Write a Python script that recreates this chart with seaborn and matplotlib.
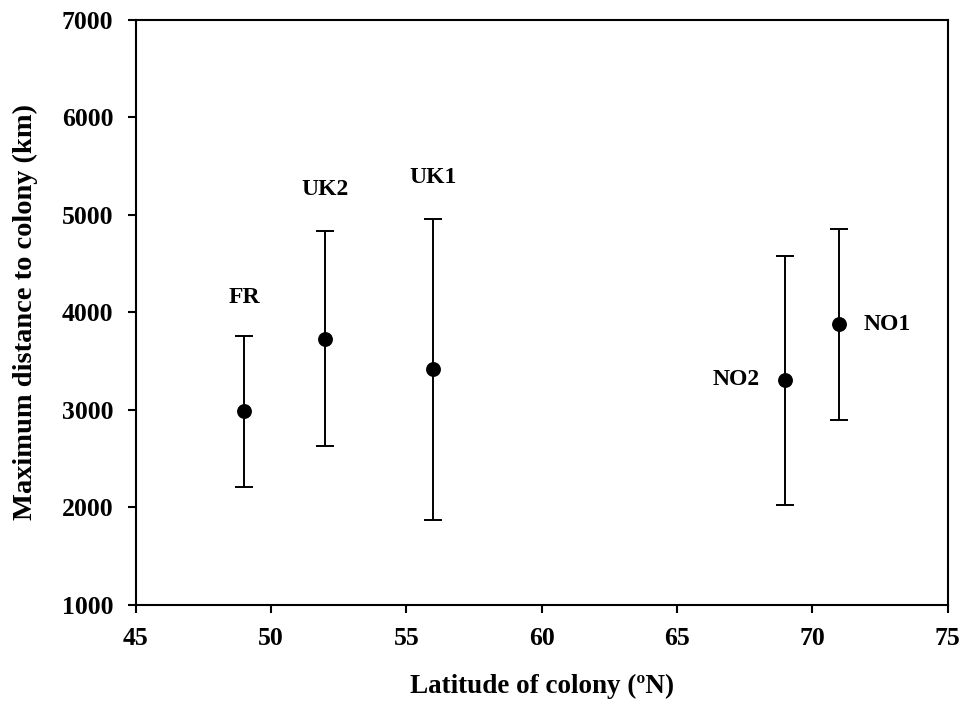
import numpy as np
import pandas as pd
import seaborn as sns
import matplotlib.pyplot as plt

# colony data
colonies = ['FR', 'UK2', 'UK1', 'NO2', 'NO1']
latitude = [49, 52, 56, 69, 71]
max_dist = [2983, 3728, 3421, 3301, 3879]
upper = [3762, 4839, 4956, 4579, 4856]
lower = [2207, 2624, 1872, 2019, 2897]

# label anchor positions (data coords)
label_x = [49, 52, 56, 67.2, 72.75]
label_y = [4150, 5256, 5379, 3308, 3877]

df = pd.DataFrame({'colony': colonies, 'lat': latitude, 'dist': max_dist,
                   'hi': upper, 'lo': lower})

sns.set_style('ticks')
plt.rcParams['font.family'] = ['Liberation Serif', 'DejaVu Serif']
plt.rcParams['font.weight'] = 'bold'
for k in ['text.color', 'axes.labelcolor', 'xtick.color', 'ytick.color', 'axes.edgecolor']:
    plt.rcParams[k] = 'black'

fig = plt.figure(figsize=(9.67, 7.11), dpi=100)
ax = fig.add_axes([0.1403, 0.1495, 0.8397, 0.8224])

yerr = np.array([df['dist'] - df['lo'], df['hi'] - df['dist']])
ax.errorbar(df['lat'], df['dist'], yerr=yerr, fmt='none', ecolor='black',
            elinewidth=1.4, capsize=6.5, capthick=1.4, zorder=2)
sns.scatterplot(data=df, x='lat', y='dist', color='black', s=115,
                edgecolor='black', linewidth=0, ax=ax, zorder=3)

for name, lx, ly in zip(colonies, label_x, label_y):
    ax.text(lx, ly, name, ha='center', va='center', fontsize=17, fontweight='bold')

ax.set_xlim(45, 75)
ax.set_ylim(1000, 7000)
ax.set_xticks(range(45, 76, 5))
ax.set_yticks(range(1000, 7001, 1000))
ax.tick_params(direction='out', length=6, width=1.5, labelsize=18.5)
ax.tick_params(axis='x', pad=10)
ax.tick_params(axis='y', pad=10)
for lab in ax.get_xticklabels() + ax.get_yticklabels():
    lab.set_fontweight('bold')
for sp in ax.spines.values():
    sp.set_visible(True)
    sp.set_linewidth(1.5)
    sp.set_color('black')

ax.set_xlabel('Latitude of colony (ºN)', fontsize=19.5, fontweight='bold')
ax.set_ylabel('Maximum distance to colony (km)', fontsize=20.5, fontweight='bold')
ax.xaxis.set_label_coords(0.5, -0.118)
ax.yaxis.set_label_coords(-0.12, 0.5)

fig.savefig('out.png', dpi=100)
